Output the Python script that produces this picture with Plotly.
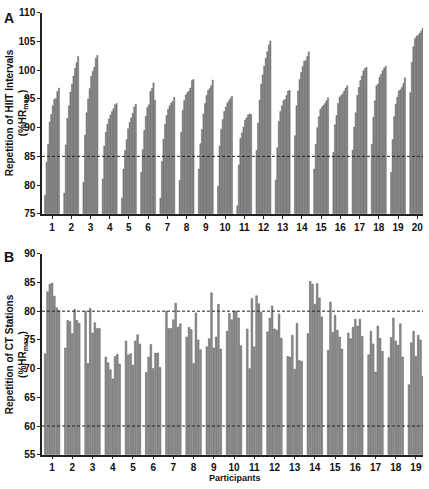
import plotly.graph_objects as go

# Panel A: HIIT intervals (%HRmax), 20 participants x 10 intervals
participants_a = list(range(1, 21))
hiit = [
    [78.2, 84.0, 87.1, 91.0, 92.3, 93.8, 94.9, 95.1, 96.3, 96.9],
    [78.6, 87.0, 91.6, 93.8, 96.2, 97.6, 99.0, 100.3, 101.3, 102.4],
    [80.5, 88.7, 92.6, 95.0, 96.8, 98.9, 99.8, 100.5, 102.1, 102.6],
    [81.1, 86.8, 89.2, 90.6, 91.5, 92.2, 92.8, 93.3, 94.0, 94.2],
    [77.7, 82.8, 86.0, 87.9, 89.8, 90.9, 91.7, 92.5, 93.6, 94.1],
    [82.2, 86.2, 89.5, 92.0, 93.5, 94.0, 96.3, 96.8, 97.8, 94.8],
    [77.7, 84.1, 88.0, 90.6, 92.1, 93.2, 93.8, 94.3, 94.6, 95.3],
    [80.8, 89.2, 93.0, 94.7, 95.7, 96.1, 96.4, 96.9, 98.2, 98.4],
    [82.8, 87.2, 89.7, 92.4, 94.2, 95.6, 96.5, 96.8, 97.3, 98.3],
    [79.8, 86.8, 89.7, 91.4, 92.8, 93.6, 94.3, 94.7, 95.1, 95.5],
    [76.4, 83.5, 88.1, 89.1, 90.1, 91.3, 91.7, 92.2, 92.4, 92.3],
    [86.0, 90.8, 94.8, 97.6, 99.2, 100.7, 102.1, 103.2, 104.4, 105.1],
    [80.9, 86.5, 91.1, 92.8, 93.8, 94.7, 94.9, 95.6, 96.4, 96.5],
    [88.6, 93.8, 96.4, 98.4, 99.6, 100.7, 101.6, 101.7, 102.4, 103.2],
    [82.8, 87.1, 90.0, 91.9, 93.2, 93.6, 93.9, 94.2, 94.7, 95.2],
    [85.7, 90.5, 92.1, 94.2, 95.3, 95.6, 95.9, 96.4, 96.9, 97.3],
    [86.1, 90.1, 92.6, 95.6, 97.0, 98.2, 99.0, 99.9, 100.3, 100.5],
    [87.1, 91.8, 94.7, 97.3, 97.6, 98.8, 99.3, 99.9, 100.4, 100.7],
    [82.2, 87.9, 91.9, 94.1, 95.3, 96.4, 96.6, 97.0, 97.7, 98.7],
    [96.1, 101.4, 104.1, 105.5, 105.9, 106.1, 106.4, 106.8, 107.3, 107.8],
]

# Panel B: CT stations (%HRmax), 19 participants x 7 stations
participants_b = list(range(1, 20))
ct = [
    [72.6, 83.4, 84.7, 84.9, 82.6, 80.6, 80.1],
    [73.6, 78.4, 78.2, 76.1, 80.3, 78.4, 77.9],
    [80.0, 70.9, 80.5, 76.2, 78.0, 77.0, 77.0],
    [72.0, 71.0, 69.8, 68.2, 72.1, 72.5, 70.8],
    [74.8, 72.4, 72.6, 70.6, 74.8, 75.9, 74.3],
    [69.3, 72.0, 74.2, 70.0, 72.7, 72.7, 70.2],
    [80.0, 77.0, 77.0, 78.5, 81.4, 77.2, 77.8],
    [75.5, 77.2, 76.8, 70.9, 79.7, 75.0, 73.3],
    [73.8, 75.2, 83.2, 73.6, 75.5, 81.2, 73.4],
    [76.5, 79.6, 78.5, 80.0, 80.0, 78.8, 74.0],
    [76.9, 70.0, 82.2, 73.8, 82.7, 81.3, 79.8],
    [76.4, 78.8, 80.9, 76.9, 76.7, 79.5, 75.3],
    [72.1, 72.0, 75.8, 69.9, 77.9, 71.4, 71.3],
    [76.1, 85.2, 84.7, 81.2, 84.8, 82.3, 79.0],
    [73.2, 81.6, 76.3, 79.3, 76.7, 75.5, 73.4],
    [76.2, 75.2, 77.2, 78.6, 77.4, 78.6, 75.6],
    [72.4, 76.5, 74.3, 69.4, 77.4, 75.3, 73.0],
    [71.9, 75.4, 78.8, 74.8, 74.1, 77.8, 72.0],
    [67.2, 74.5, 76.5, 72.1, 75.8, 75.0, 68.7],
]

hiit_ticks = [75, 80, 85, 90, 95, 100, 105, 110]
ct_ticks = [55, 60, 65, 70, 75, 80, 85, 90]
hiit_ref = [85]
ct_ref = [60, 80]

BAR_FILL = "#8e8e8e"
BAR_LINE = "#4a4a4a"
FONT = "Liberation Sans, Arial, sans-serif"

fig = go.Figure()

n_a = len(hiit[0])
for j in range(n_a):
    fig.add_trace(go.Bar(
        x=participants_a, y=[row[j] for row in hiit],
        xaxis="x", yaxis="y", offsetgroup=str(j),
        marker=dict(color=BAR_FILL, line=dict(color=BAR_LINE, width=0.4)),
        showlegend=False, hoverinfo="y",
    ))

n_b = len(ct[0])
for j in range(n_b):
    fig.add_trace(go.Bar(
        x=participants_b, y=[row[j] for row in ct],
        xaxis="x2", yaxis="y2", offsetgroup="b" + str(j),
        marker=dict(color=BAR_FILL, line=dict(color=BAR_LINE, width=0.4)),
        showlegend=False, hoverinfo="y",
    ))

shapes = []
for v in hiit_ref:
    shapes.append(dict(type="line", xref="x domain", yref="y", x0=0, x1=1, y0=v, y1=v,
                       line=dict(color="#222", width=1, dash="3px,2px")))
for v in ct_ref:
    shapes.append(dict(type="line", xref="x2 domain", yref="y2", x0=0, x1=1, y0=v, y1=v,
                       line=dict(color="#222", width=1, dash="3px,2px")))

W, H = 429, 489
xdom = [42 / W, 423 / W]
tickfont = dict(family=FONT, size=10, color="#111")

axis_common = dict(showgrid=False, zeroline=False, showline=True, linecolor="#222",
                   linewidth=1.5, ticks="outside", ticklen=3, tickwidth=1, tickcolor="#222",
                   tickfont=tickfont)

fig.update_layout(
    width=W, height=H, margin=dict(l=0, r=0, t=0, b=0),
    paper_bgcolor="white", plot_bgcolor="white",
    barmode="group", bargap=0.2, bargroupgap=0.25,
    shapes=shapes,
    xaxis=dict(domain=xdom, anchor="y", range=[0.48, 20.3], tickvals=participants_a,
               ticktext=[f"<b>{p}</b>" for p in participants_a], **axis_common),
    yaxis=dict(domain=[1 - 213 / H, 1 - 7 / H], anchor="x", range=[75, 110],
               tickvals=hiit_ticks, ticktext=[f"<b>{t}</b>" for t in hiit_ticks], **axis_common),
    xaxis2=dict(domain=xdom, anchor="y2", range=[0.5, 19.35], tickvals=participants_b,
                ticktext=[f"<b>{p}</b>" for p in participants_b], **axis_common),
    yaxis2=dict(domain=[1 - 460 / H, 1 - 254 / H], anchor="x2", range=[55, 90],
                tickvals=ct_ticks, ticktext=[f"<b>{t}</b>" for t in ct_ticks], **axis_common),
    annotations=[
        dict(text="<b>A</b>", x=2 / W, y=1 - 2 / H, xref="paper", yref="paper",
             xanchor="left", yanchor="top", showarrow=False,
             font=dict(family=FONT, size=14, color="#111")),
        dict(text="<b>B</b>", x=2 / W, y=1 - 247 / H, xref="paper", yref="paper",
             xanchor="left", yanchor="top", showarrow=False,
             font=dict(family=FONT, size=14, color="#111")),
        dict(text="<b>Repetition of HIIT Intervals<br>(%HR<sub>max</sub> )</b>",
             x=16 / W, y=1 - 110 / H, xref="paper", yref="paper", textangle=-90,
             xanchor="center", yanchor="middle",
             showarrow=False, font=dict(family=FONT, size=10, color="#111")),
        dict(text="<b>Repetition of CT Stations<br>(%HR<sub>max</sub> )</b>",
             x=16 / W, y=1 - 357 / H, xref="paper", yref="paper", textangle=-90,
             xanchor="center", yanchor="middle",
             showarrow=False, font=dict(family=FONT, size=10, color="#111")),
        dict(text="<b>Participants</b>", x=235 / W, y=1 - 484 / H, xref="paper", yref="paper",
             xanchor="center", yanchor="middle",
             showarrow=False, font=dict(family=FONT, size=9, color="#111")),
    ],
)

fig.write_html("out.html")
